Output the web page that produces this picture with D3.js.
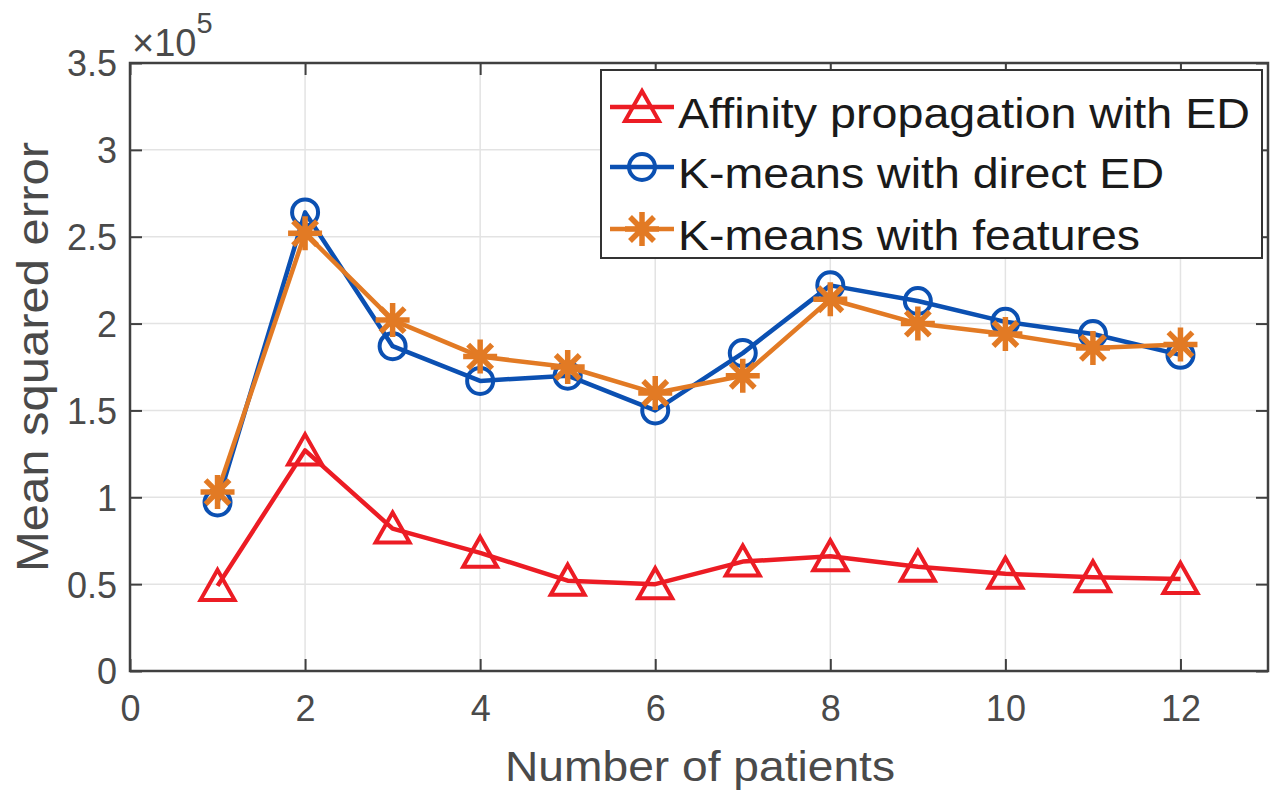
<!DOCTYPE html>
<html><head><meta charset="utf-8">
<script src="https://cdn.jsdelivr.net/npm/d3@7"></script>
<style>body{margin:0;background:#fff}svg{display:block}text{font-family:"Liberation Sans",Arial,sans-serif}</style>
</head><body><svg id="c" width="1280" height="792"></svg>
<script>
const patients=[1,2,3,4,5,6,7,8,9,10,11,12];
const affinityED=[0.49,1.27,0.82,0.68,0.52,0.50,0.63,0.66,0.60,0.56,0.54,0.53];
const kmeansDirect=[0.97,2.64,1.87,1.67,1.70,1.50,1.83,2.22,2.13,2.01,1.94,1.82];
const kmeansFeatures=[1.03,2.52,2.02,1.81,1.75,1.60,1.70,2.14,2.00,1.94,1.86,1.88];
const xTicks=[0,2,4,6,8,10,12];
const yTicks=[0,0.5,1,1.5,2,2.5,3,3.5];
const yTickLabels=["0","0.5","1","1.5","2","2.5","3","3.5"];
const seriesNames=["Affinity propagation with ED","K-means with direct ED","K-means with features"];

const svg=d3.select("#c");
const L=130,R=1268,T=63,B=671;
const x=d3.scaleLinear().domain([0,13]).range([L,R]);
const y=d3.scaleLinear().domain([0,3.5]).range([B,T]);
const axisCol="#404040";

// grid
const g=svg.append("g");
g.selectAll("line.vg").data(xTicks.filter(d=>d>0)).join("line")
 .attr("x1",d=>x(d)).attr("x2",d=>x(d)).attr("y1",T).attr("y2",B)
 .attr("stroke","#e3e3e3").attr("stroke-width",1.5);
g.selectAll("line.hg").data(yTicks.filter(d=>d>0&&d<3.5)).join("line")
 .attr("y1",d=>y(d)).attr("y2",d=>y(d)).attr("x1",L).attr("x2",R)
 .attr("stroke","#e3e3e3").attr("stroke-width",1.5);

// axes
const ax=svg.append("g").attr("transform",`translate(0,${B})`)
 .call(d3.axisBottom(x).tickValues(xTicks).tickSizeInner(-12).tickSizeOuter(0).tickPadding(24));
const ay=svg.append("g").attr("transform",`translate(${L},0)`)
 .call(d3.axisLeft(y).tickValues(yTicks).tickFormat((d,i)=>yTickLabels[i]).tickSizeInner(-12).tickSizeOuter(0).tickPadding(13));
const axT=svg.append("g").attr("transform",`translate(0,${T})`)
 .call(d3.axisTop(x).tickValues(xTicks).tickSizeInner(-12).tickSizeOuter(0).tickFormat(""));
const ayR=svg.append("g").attr("transform",`translate(${R},0)`)
 .call(d3.axisRight(y).tickValues(yTicks).tickSizeInner(-12).tickSizeOuter(0).tickFormat(""));
[ax,ay,axT,ayR].forEach(a=>{
  a.select(".domain").remove();
  a.selectAll(".tick line").attr("stroke",axisCol).attr("stroke-width",2);
  a.selectAll(".tick text").attr("fill","#4a4a4a").attr("font-size",36).attr("font-family","Liberation Sans, Arial, sans-serif");
});
ax.selectAll(".tick text").attr("dy","0.71em").attr("y",24);
ay.selectAll(".tick text").attr("dy","0.36em");
svg.append("rect").attr("x",L).attr("y",T).attr("width",R-L).attr("height",B-T)
 .attr("fill","none").attr("stroke",axisCol).attr("stroke-width",2.5);

// exponent
const ex=svg.append("text").attr("x",132).attr("y",56).attr("fill","#4a4a4a").attr("font-size",38);
ex.append("tspan").text("×10");
ex.append("tspan").attr("font-size",29).attr("dy",-23).text("5");

// axis labels
svg.append("text").attr("x",700).attr("y",781).attr("text-anchor","middle").attr("fill","#4a4a4a")
 .attr("font-size",43).attr("textLength",390).attr("lengthAdjust","spacingAndGlyphs").text("Number of patients");
svg.append("text").attr("transform","translate(48,357) rotate(-90)").attr("text-anchor","middle").attr("fill","#4a4a4a")
 .attr("font-size",44).attr("textLength",430).attr("lengthAdjust","spacingAndGlyphs").text("Mean squared error");

// markers
const colors=["#ec1c24","#0b50b2","#e27a24"];
function triangle(sel,c){sel.append("path").attr("d","M0,-16L17,14L-17,14Z").attr("fill","none").attr("stroke",c).attr("stroke-width",4).attr("stroke-linejoin","miter");}
function circle(sel,c){sel.append("circle").attr("r",13).attr("fill","none").attr("stroke",c).attr("stroke-width",4);}
function star(sel,c){const r=17,d=12;sel.append("path").attr("d",`M${-r},0L${r},0M0,${-r}L0,${r}M${-d},${-d}L${d},${d}M${-d},${d}L${d},${-d}`).attr("stroke",c).attr("stroke-width",5.5);}
const markers=[triangle,circle,star];
const data=[affinityED,kmeansDirect,kmeansFeatures];
const line=d3.line().x((d,i)=>x(patients[i])).y(d=>y(d));
const plot=svg.append("g");
[0,1,2].forEach(k=>{
  plot.append("path").datum(data[k]).attr("d",line).attr("fill","none").attr("stroke",colors[k]).attr("stroke-width",4.5).attr("stroke-linejoin","round");
  data[k].forEach((v,i)=>{const m=plot.append("g").attr("transform",`translate(${x(patients[i])},${y(v)})`);markers[k](m,colors[k]);});
});

// legend
const lg=svg.append("g");
lg.append("rect").attr("x",601).attr("y",70).attr("width",661).attr("height",188).attr("fill","#fff").attr("stroke","#333").attr("stroke-width",2);
const rowY=[107,167,229];
const widths=[572,486,462];
[0,1,2].forEach(k=>{
  lg.append("line").attr("x1",610).attr("x2",674).attr("y1",rowY[k]).attr("y2",rowY[k]).attr("stroke",colors[k]).attr("stroke-width",4.5);
  const m=lg.append("g").attr("transform",`translate(642,${rowY[k]})`);markers[k](m,colors[k]);
  lg.append("text").attr("x",678).attr("y",rowY[k]+13).attr("dy","0.2em").attr("fill","#1a1a1a").attr("font-size",42)
   .attr("textLength",widths[k]).attr("lengthAdjust","spacingAndGlyphs").text(seriesNames[k]);
});
</script></body></html>
